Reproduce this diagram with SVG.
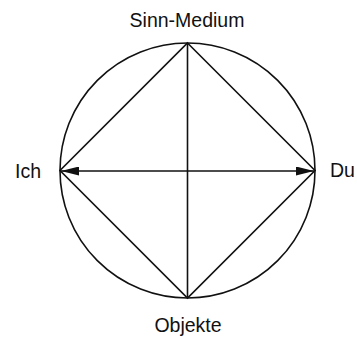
<svg xmlns="http://www.w3.org/2000/svg" width="357" height="338" viewBox="0 0 357 338">
<style>
.l{stroke:#111;stroke-width:1.6;fill:none}
.t{font-family:"Liberation Sans",Arial,sans-serif;font-size:19.5px;fill:#111}
</style>
<defs>
<marker id="ah" viewBox="0 0 18 9" refX="18" refY="4.5" markerWidth="18" markerHeight="9" markerUnits="userSpaceOnUse" orient="auto-start-reverse">
<path d="M0,0 L18,4.5 L0,9 Z" fill="#111"/>
</marker>
</defs>
<rect width="357" height="338" fill="#fff"/>
<g id="circle"><circle class="l" cx="187.5" cy="170.5" r="127.5" stroke-width="1.4"/></g>
<g id="connectors">
<polygon class="l" points="187.5,43 315,170.5 187.5,298 60,170.5"/>
<line class="l" x1="187.5" y1="43" x2="187.5" y2="298"/>
<line class="l" x1="61" y1="171" x2="314" y2="171" marker-start="url(#ah)" marker-end="url(#ah)"/>
</g>
<g id="n-sinn"><text class="t" x="187" y="27" text-anchor="middle">Sinn-Medium</text></g>
<g id="n-objekte"><text class="t" x="188" y="332" text-anchor="middle">Objekte</text></g>
<g id="n-ich"><text class="t" x="15" y="178">Ich</text></g>
<g id="n-du"><text class="t" x="330" y="177">Du</text></g>
</svg>
